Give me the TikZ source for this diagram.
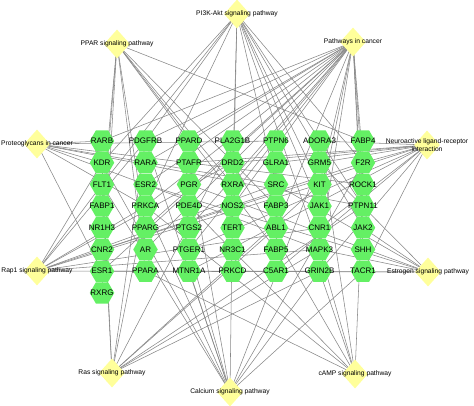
\documentclass[tikz,border=0pt]{standalone}
\usepackage{fontspec}
\setmainfont{Liberation Sans}
\usetikzlibrary{shapes.geometric,backgrounds}
\definecolor{genegreen}{RGB}{100,240,100}
\definecolor{pathyellow}{RGB}{255,255,155}
\definecolor{edgegray}{RGB}{135,135,135}
\begin{document}
\begin{tikzpicture}[x=1pt,y=-1pt,
  gene/.style={regular polygon, regular polygon sides=6, minimum size=24.5pt, inner sep=0pt,
    fill=genegreen, draw=none, label={[genetext]center:#1}},
  genetext/.style={font=\fontsize{8}{8}\selectfont, text=black, inner sep=0pt},
  pwnode/.style={diamond, minimum width=26pt, minimum height=29pt, inner sep=0pt,
    fill=pathyellow, draw=none, label={[pwtext]center:#1}},
  pwtext/.style={font=\fontsize{6.7}{8}\selectfont, align=center, inner sep=0pt, text=black},
  link/.style={draw=edgegray, line width=0.55pt}]
\useasboundingbox (0,0) rectangle (474,405);
% genes
\foreach \n/\c/\r in {RARB/0/0, PDGFRB/1/0, PPARD/2/0, PLA2G1B/3/0, PTPN6/4/0, ADORA3/5/0, FABP4/6/0,
  KDR/0/1, RARA/1/1, PTAFR/2/1, DRD2/3/1, GLRA1/4/1, GRM5/5/1, F2R/6/1,
  FLT1/0/2, ESR2/1/2, PGR/2/2, RXRA/3/2, SRC/4/2, KIT/5/2, ROCK1/6/2,
  FABP1/0/3, PRKCA/1/3, PDE4D/2/3, NOS2/3/3, FABP3/4/3, JAK1/5/3, PTPN11/6/3,
  NR1H3/0/4, PPARG/1/4, PTGS2/2/4, TERT/3/4, ABL1/4/4, CNR1/5/4, JAK2/6/4,
  CNR2/0/5, AR/1/5, PTGER1/2/5, NR3C1/3/5, FABP5/4/5, MAPK3/5/5, SHH/6/5,
  ESR1/0/6, PPARA/1/6, MTNR1A/2/6, PRKCD/3/6, C5AR1/4/6, GRIN2B/5/6, TACR1/6/6,
  RXRG/0/7}
  \node[gene=\n] (\n) at ({102+43.5*\c},{141+21.7*\r}) {};
% pathways
\node[pwnode={PI3K-Akt signaling pathway}] (PI3K) at (237,14) {};
\node[pwnode={PPAR signaling pathway}] (PPAR) at (117,44) {};
\node[pwnode={Pathways in cancer}] (PIC) at (353,42) {};
\node[pwnode={Proteoglycans in cancer}] (PROT) at (37,144) {};
\node[pwnode={Neuroactive ligand-receptor\\interaction}] (NEURO) at (427,145) {};
\node[pwnode={Rap1 signaling pathway}] (RAP) at (37,271) {};
\node[pwnode={Estrogen signaling pathway}] (ESTR) at (428,272) {};
\node[pwnode={Ras signaling pathway}] (RAS) at (112,373) {};
\node[pwnode={Calcium signaling pathway}] (CALC) at (230,392) {};
\node[pwnode={cAMP signaling pathway}] (CAMP) at (355,374) {};
% edges
\begin{scope}[on background layer]
\foreach \g in {FABP1,NR1H3,RXRG,PPARG,PPARA,PPARD,RXRA,FABP3,FABP5,FABP4}
  \draw[link] (PPAR.center) -- (\g.center);
\foreach \g in {PDGFRB,KDR,FLT1,PRKCA,RXRA,TERT,KIT,JAK1,JAK2,F2R,MAPK3,PTPN11,SRC}
  \draw[link] (PI3K.center) -- (\g.center);
\foreach \g in {RARB,PDGFRB,PPARD,RARA,PTGS2,RXRA,PRKCA,NOS2,PPARG,AR,ESR1,ESR2,ABL1,MAPK3,KIT,JAK1,JAK2,F2R,ROCK1,SHH,PTGER1}
  \draw[link] (PIC.center) -- (\g.center);
\foreach \g in {KDR,ESR1,PRKCA,SRC,MAPK3,ROCK1,PTPN6,PTPN11,RARB}
  \draw[link] (PROT.center) -- (\g.center);
\foreach \g in {ADORA3,CNR1,CNR2,DRD2,F2R,GLRA1,GRM5,GRIN2B,MTNR1A,PTAFR,PTGER1,TACR1,C5AR1}
  \draw[link] (NEURO.center) -- (\g.center);
\foreach \g in {KDR,FLT1,PDGFRB,KIT,PRKCA,MAPK3,SRC,F2R,CNR1,DRD2,GRIN2B}
  \draw[link] (RAP.center) -- (\g.center);
\foreach \g in {ESR1,ESR2,PGR,SRC,MAPK3,GRM5,PRKCD,JAK2}
  \draw[link] (ESTR.center) -- (\g.center);
\foreach \g in {KDR,FLT1,PDGFRB,KIT,PRKCA,PLA2G1B,ABL1,MAPK3,GRIN2B,PTPN11}
  \draw[link] (RAS.center) -- (\g.center);
\foreach \g in {PTAFR,PTGER1,TACR1,GRM5,GRIN2B,F2R,PDGFRB,PRKCA,NOS2,MTNR1A,KDR,FLT1}
  \draw[link] (CALC.center) -- (\g.center);
\foreach \g in {PPARA,PDE4D,DRD2,GRIN2B,MAPK3,ROCK1,PRKCA,ADORA3}
  \draw[link] (CAMP.center) -- (\g.center);
\end{scope}
\end{tikzpicture}
\end{document}
